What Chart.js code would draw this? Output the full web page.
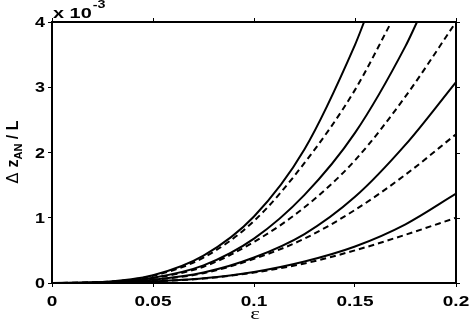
<!DOCTYPE html>
<html>
<head>
<meta charset="utf-8">
<script src="https://cdn.jsdelivr.net/npm/chart.js@4/dist/chart.umd.min.js"></script>
<style>
  html, body { margin: 0; padding: 0; background: #ffffff; }
  #wrap { width: 470px; height: 322px; }
</style>
</head>
<body>
<div id="wrap"><canvas id="c" width="470" height="322"></canvas></div>
<script>
// ---- data (y values in units of 1e-3) ----
const epsGrid   = [0, 0.025, 0.05, 0.075, 0.1, 0.125, 0.15, 0.175, 0.2];
const solid1X   = [0, 0.025, 0.05, 0.075, 0.1, 0.125, 0.15, 0.1545];
const solid1Y   = [0, 0.017, 0.12, 0.42, 1.02, 2.05, 3.65, 4.0];
const dashed1X  = [0, 0.025, 0.05, 0.075, 0.1, 0.125, 0.15, 0.168];
const dashed1Y  = [0, 0.015, 0.11, 0.39, 0.95, 1.84, 2.96, 4.0];
const solid2X   = [0, 0.025, 0.05, 0.075, 0.1, 0.125, 0.15, 0.175, 0.1807];
const solid2Y   = [0, 0.011, 0.08, 0.27, 0.68, 1.35, 2.30, 3.63, 4.0];
const dashed2Y  = [0, 0.010, 0.075, 0.25, 0.63, 1.16, 1.88, 2.86, 4.0];
const solid3Y   = [0, 0.006, 0.05, 0.16, 0.39, 0.75, 1.32, 2.12, 3.08];
const dashed3Y  = [0, 0.006, 0.047, 0.15, 0.37, 0.68, 1.12, 1.66, 2.28];
const solid4Y   = [0, 0.003, 0.025, 0.072, 0.17, 0.33, 0.56, 0.90, 1.37];
const dashed4Y  = [0, 0.003, 0.024, 0.068, 0.16, 0.30, 0.50, 0.74, 1.00];
const xTicks    = [0, 0.05, 0.1, 0.15, 0.2];
const yTicks    = [0, 1, 2, 3, 4];
const xTickLabels = ['0', '0.05', '0.1', '0.15', '0.2'];
const yTickLabels = ['0', '1', '2', '3', '4'];

const pts = (xs, ys) => xs.map((x, i) => ({ x: x, y: ys[i] }));
const SANS = '"Liberation Sans", Arial, sans-serif';
const STRETCH = 1.36;

function line(xs, ys, dashed) {
  return {
    data: pts(xs, ys),
    borderColor: '#000',
    borderWidth: 2,
    borderDash: dashed ? [6, 4] : [],
    pointRadius: 0,
    fill: false,
    cubicInterpolationMode: 'monotone'
  };
}

// draw text stretched horizontally (the reference glyphs are wide)
function wideText(ctx, txt, x, y, align, font, sx) {
  ctx.save();
  ctx.font = font;
  const w = ctx.measureText(txt).width * sx;
  let left = x;
  if (align === 'center') left = x - w / 2;
  else if (align === 'right') left = x - w;
  ctx.translate(left, y);
  ctx.scale(sx, 1);
  ctx.textAlign = 'left';
  ctx.textBaseline = 'alphabetic';
  ctx.fillText(txt, 0, 0);
  ctx.restore();
  return w;
}

const framePlugin = {
  id: 'frame',
  afterDraw(chart) {
    const ctx = chart.ctx, a = chart.chartArea;
    const xs = chart.scales.x, ys = chart.scales.y;
    ctx.save();
    ctx.strokeStyle = '#000';
    ctx.lineWidth = 2;
    ctx.beginPath();
    ctx.moveTo(a.left, a.top); ctx.lineTo(a.right, a.top);
    ctx.moveTo(a.right, a.top); ctx.lineTo(a.right, a.bottom);
    ctx.stroke();
    ctx.lineWidth = 1;
    ctx.beginPath();
    xTicks.forEach(v => {
      const p = Math.round(xs.getPixelForValue(v)) + 0.5;
      ctx.moveTo(p, a.top); ctx.lineTo(p, a.top - 4);
    });
    yTicks.forEach(v => {
      const p = Math.round(ys.getPixelForValue(v)) + 0.5;
      ctx.moveTo(a.right, p); ctx.lineTo(a.right + 4, p);
    });
    ctx.stroke();

    ctx.fillStyle = '#000';
    const tickFont = 'bold 14px ' + SANS;
    // tick labels
    xTicks.forEach((v, i) => {
      wideText(ctx, xTickLabels[i], xs.getPixelForValue(v), 306, 'center', tickFont, STRETCH);
    });
    yTicks.forEach((v, i) => {
      wideText(ctx, yTickLabels[i], 45, ys.getPixelForValue(v) + 5, 'right', tickFont, 1.28);
    });

    // exponent label
    const w = wideText(ctx, 'x 10', a.left + 1, 18, 'left', tickFont, 1.42);
    wideText(ctx, '-3', a.left + 2 + w, 8, 'left', 'bold 11px ' + SANS, 1.3);

    // x axis title
    wideText(ctx, '\u03B5', (a.left + a.right) / 2 + 1, 319, 'center', '17px "Liberation Serif", "DejaVu Serif", serif', 1.35);

    // y axis title (rotated, with subscript)
    ctx.translate(18, 152);
    ctx.rotate(-Math.PI / 2);
    const mainF = 'bold 16px ' + SANS;
    const deltaF = '16px "DejaVu Sans", sans-serif';
    const subF = 'bold 11px ' + SANS;
    const parts = [
      { t: '\u0394 ', f: deltaF, dy: 0 },
      { t: 'z', f: mainF, dy: 0 },
      { t: 'AN', f: subF, dy: 4 },
      { t: ' / L', f: mainF, dy: 0 }
    ];
    let total = 0;
    parts.forEach(p => { ctx.font = p.f; p.w = ctx.measureText(p.t).width; total += p.w; });
    let x = -total / 2;
    ctx.textAlign = 'left';
    ctx.textBaseline = 'alphabetic';
    parts.forEach(p => { ctx.font = p.f; ctx.fillText(p.t, x, p.dy); x += p.w; });
    ctx.restore();
  }
};

new Chart(document.getElementById('c'), {
  type: 'line',
  data: {
    datasets: [
      line(solid1X, solid1Y, false),
      line(dashed1X, dashed1Y, true),
      line(solid2X, solid2Y, false),
      line(epsGrid, dashed2Y, true),
      line(epsGrid, solid3Y, false),
      line(epsGrid, dashed3Y, true),
      line(epsGrid, solid4Y, false),
      line(epsGrid, dashed4Y, true)
    ]
  },
  options: {
    responsive: false,
    animation: false,
    events: [],
    layout: { padding: { left: 0, right: 14, top: 22, bottom: 0 } },
    plugins: { legend: { display: false }, tooltip: { enabled: false } },
    scales: {
      x: {
        type: 'linear', min: 0, max: 0.2,
        afterBuildTicks: s => { s.ticks = xTicks.map(v => ({ value: v })); },
        afterFit: s => { s.height = 39; },
        ticks: { display: false },
        grid: { display: true, drawOnChartArea: false, drawTicks: true, tickLength: 4, color: '#000', lineWidth: 1 },
        border: { display: true, color: '#000', width: 2 }
      },
      y: {
        type: 'linear', min: 0, max: 4,
        afterBuildTicks: s => { s.ticks = yTicks.map(v => ({ value: v })); },
        afterFit: s => { s.width = 52; },
        ticks: { display: false },
        grid: { display: true, drawOnChartArea: false, drawTicks: true, tickLength: 4, color: '#000', lineWidth: 1 },
        border: { display: true, color: '#000', width: 2 }
      }
    }
  },
  plugins: [framePlugin]
});
</script>
</body>
</html>
